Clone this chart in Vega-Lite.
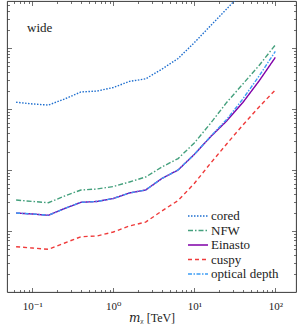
{
  "$schema": "https://vega.github.io/schema/vega-lite/v6.json",
  "width": 289,
  "height": 291,
  "autosize": {"type": "none"},
  "padding": {"left": 7, "top": 1, "right": 4, "bottom": 40},
  "config": {
    "view": {"stroke": "#222222", "strokeWidth": 0.9},
    "font": "Liberation Serif, DejaVu Serif, serif",
    "axis": {"domain": false, "grid": false, "tickColor": "#333333", "tickWidth": 0.7}
  },
  "datasets": {
    "curves": [
      {"profile": "cored", "mass": 0.0631, "limit": 1.29e-24},
      {"profile": "cored", "mass": 0.1, "limit": 1.21e-24},
      {"profile": "cored", "mass": 0.158, "limit": 1.16e-24},
      {"profile": "cored", "mass": 0.251, "limit": 1.46e-24},
      {"profile": "cored", "mass": 0.398, "limit": 1.9e-24},
      {"profile": "cored", "mass": 0.631, "limit": 1.97e-24},
      {"profile": "cored", "mass": 1, "limit": 2.25e-24},
      {"profile": "cored", "mass": 1.58, "limit": 2.83e-24},
      {"profile": "cored", "mass": 2.51, "limit": 3.12e-24},
      {"profile": "cored", "mass": 3.98, "limit": 4.5e-24},
      {"profile": "cored", "mass": 6.31, "limit": 6.73e-24},
      {"profile": "cored", "mass": 10, "limit": 1.22e-23},
      {"profile": "cored", "mass": 15.8, "limit": 2.3e-23},
      {"profile": "cored", "mass": 25.1, "limit": 4.36e-23},
      {"profile": "cored", "mass": 39.8, "limit": 8.3e-23},
      {"profile": "NFW", "mass": 0.0631, "limit": 3.22e-26},
      {"profile": "NFW", "mass": 0.1, "limit": 3.05e-26},
      {"profile": "NFW", "mass": 0.158, "limit": 2.91e-26},
      {"profile": "NFW", "mass": 0.251, "limit": 3.75e-26},
      {"profile": "NFW", "mass": 0.398, "limit": 4.7e-26},
      {"profile": "NFW", "mass": 0.631, "limit": 4.88e-26},
      {"profile": "NFW", "mass": 1, "limit": 5.36e-26},
      {"profile": "NFW", "mass": 1.58, "limit": 6.36e-26},
      {"profile": "NFW", "mass": 2.51, "limit": 7.68e-26},
      {"profile": "NFW", "mass": 3.98, "limit": 1.12e-25},
      {"profile": "NFW", "mass": 6.31, "limit": 1.54e-25},
      {"profile": "NFW", "mass": 10, "limit": 2.77e-25},
      {"profile": "NFW", "mass": 15.8, "limit": 5.78e-25},
      {"profile": "NFW", "mass": 25.1, "limit": 1.28e-24},
      {"profile": "NFW", "mass": 39.8, "limit": 2.57e-24},
      {"profile": "NFW", "mass": 63.1, "limit": 5.17e-24},
      {"profile": "NFW", "mass": 100, "limit": 1.12e-23},
      {"profile": "Einasto", "mass": 0.0631, "limit": 1.97e-26},
      {"profile": "Einasto", "mass": 0.1, "limit": 1.9e-26},
      {"profile": "Einasto", "mass": 0.158, "limit": 1.81e-26},
      {"profile": "Einasto", "mass": 0.251, "limit": 2.34e-26},
      {"profile": "Einasto", "mass": 0.398, "limit": 2.95e-26},
      {"profile": "Einasto", "mass": 0.631, "limit": 3.05e-26},
      {"profile": "Einasto", "mass": 1, "limit": 3.41e-26},
      {"profile": "Einasto", "mass": 1.58, "limit": 4.2e-26},
      {"profile": "Einasto", "mass": 2.51, "limit": 4.7e-26},
      {"profile": "Einasto", "mass": 3.98, "limit": 7.26e-26},
      {"profile": "Einasto", "mass": 6.31, "limit": 1.0e-25},
      {"profile": "Einasto", "mass": 10, "limit": 1.8e-25},
      {"profile": "Einasto", "mass": 15.8, "limit": 3.48e-25},
      {"profile": "Einasto", "mass": 25.1, "limit": 6.36e-25},
      {"profile": "Einasto", "mass": 39.8, "limit": 1.28e-24},
      {"profile": "Einasto", "mass": 63.1, "limit": 2.88e-24},
      {"profile": "Einasto", "mass": 100, "limit": 6.99e-24},
      {"profile": "cuspy", "mass": 0.0631, "limit": 5.53e-27},
      {"profile": "cuspy", "mass": 0.1, "limit": 5.26e-27},
      {"profile": "cuspy", "mass": 0.158, "limit": 5.01e-27},
      {"profile": "cuspy", "mass": 0.251, "limit": 6.36e-27},
      {"profile": "cuspy", "mass": 0.398, "limit": 8.06e-27},
      {"profile": "cuspy", "mass": 0.631, "limit": 8.28e-27},
      {"profile": "cuspy", "mass": 1, "limit": 9.63e-27},
      {"profile": "cuspy", "mass": 1.58, "limit": 1.21e-26},
      {"profile": "cuspy", "mass": 2.51, "limit": 1.4e-26},
      {"profile": "cuspy", "mass": 3.98, "limit": 2.13e-26},
      {"profile": "cuspy", "mass": 6.31, "limit": 3.16e-26},
      {"profile": "cuspy", "mass": 10, "limit": 6.01e-26},
      {"profile": "cuspy", "mass": 15.8, "limit": 1.28e-25},
      {"profile": "cuspy", "mass": 25.1, "limit": 2.67e-25},
      {"profile": "cuspy", "mass": 39.8, "limit": 5.47e-25},
      {"profile": "cuspy", "mass": 63.1, "limit": 1.08e-24},
      {"profile": "cuspy", "mass": 100, "limit": 2.05e-24},
      {"profile": "optical depth", "mass": 0.0631, "limit": 1.97e-26},
      {"profile": "optical depth", "mass": 0.1, "limit": 1.9e-26},
      {"profile": "optical depth", "mass": 0.158, "limit": 1.81e-26},
      {"profile": "optical depth", "mass": 0.251, "limit": 2.34e-26},
      {"profile": "optical depth", "mass": 0.398, "limit": 2.95e-26},
      {"profile": "optical depth", "mass": 0.631, "limit": 3.05e-26},
      {"profile": "optical depth", "mass": 1, "limit": 3.41e-26},
      {"profile": "optical depth", "mass": 1.58, "limit": 4.2e-26},
      {"profile": "optical depth", "mass": 2.51, "limit": 4.7e-26},
      {"profile": "optical depth", "mass": 3.98, "limit": 7.26e-26},
      {"profile": "optical depth", "mass": 6.31, "limit": 1.0e-25},
      {"profile": "optical depth", "mass": 10, "limit": 1.8e-25},
      {"profile": "optical depth", "mass": 15.8, "limit": 3.52e-25},
      {"profile": "optical depth", "mass": 25.1, "limit": 6.73e-25},
      {"profile": "optical depth", "mass": 39.8, "limit": 1.46e-24},
      {"profile": "optical depth", "mass": 63.1, "limit": 3.48e-24},
      {"profile": "optical depth", "mass": 100, "limit": 8.76e-24}
    ],
    "note": [
      {"label": "wide", "x": 0.086, "y": 2.13e-23}
    ]
  },
  "layer": [
    {
      "data": {"name": "curves"},
      "mark": {"type": "line", "clip": true, "strokeWidth": 1.4},
      "encoding": {
        "x": {
          "field": "mass", "type": "quantitative",
          "scale": {"type": "log", "domain": [0.0487, 180.2], "nice": false},
          "axis": {
            "orient": "bottom",
            "title": "𝑚ᵪ [TeV]",
            "titleFont": "Liberation Serif, DejaVu Serif, serif", "titleFontSize": 12, "titleFontWeight": "normal", "titleColor": "#222222",
            "titlePadding": -1,
            "values": [0.06, 0.07, 0.08, 0.09, 0.1, 0.2, 0.3, 0.4, 0.5, 0.6, 0.7, 0.8, 0.9, 1, 2, 3, 4, 5, 6, 7, 8, 9, 10, 20, 30, 40, 50, 60, 70, 80, 90, 100],
            "labelExpr": "datum.value == 0.1 ? '10⁻¹' : datum.value == 1 ? '10⁰' : datum.value == 10 ? '10¹' : datum.value == 100 ? '10²' : ''",
            "labelFont": "Liberation Serif, DejaVu Serif, serif", "labelFontSize": 11, "labelColor": "#222222",
            "labelOverlap": false, "labelFlush": false, "labelPadding": 13,
            "tickSize": {"condition": {"test": "datum.value == 0.1 || datum.value == 1 || datum.value == 10 || datum.value == 100", "value": -4.5}, "value": -2.5}
          }
        },
        "y": {
          "field": "limit", "type": "quantitative",
          "scale": {"type": "log", "domain": [1e-27, 5.89e-23], "nice": false},
          "axis": {
            "orient": "left", "title": null, "labels": false,
            "values": [2e-27, 3e-27, 4e-27, 5e-27, 6e-27, 7e-27, 8e-27, 9e-27, 1e-26, 2e-26, 3e-26, 4e-26, 5e-26, 6e-26, 7e-26, 8e-26, 9e-26, 1e-25, 2e-25, 3e-25, 4e-25, 5e-25, 6e-25, 7e-25, 8e-25, 9e-25, 1e-24, 2e-24, 3e-24, 4e-24, 5e-24, 6e-24, 7e-24, 8e-24, 9e-24, 1e-23, 2e-23, 3e-23, 4e-23, 5e-23],
            "tickSize": {"condition": {"test": "datum.value == 1e-26 || datum.value == 1e-25 || datum.value == 1e-24 || datum.value == 1e-23", "value": -4.5}, "value": -2.5}
          }
        },
        "color": {
          "field": "profile", "type": "nominal",
          "scale": {"domain": ["cored", "NFW", "Einasto", "cuspy", "optical depth"], "range": ["#1f6fcf", "#44a07d", "#8000a8", "#ef3b3b", "#3d9df5"]},
          "legend": {"orient": "none", "legendX": 180, "legendY": 209, "title": null, "padding": 0, "symbolType": "stroke", "symbolSize": 400, "symbolStrokeWidth": 1.4, "clipHeight": 12, "labelFont": "Liberation Serif, DejaVu Serif, serif", "labelFontSize": 13, "labelColor": "#222222", "labelOffset": 2, "rowPadding": 1.5}
        },
        "strokeDash": {
          "field": "profile", "type": "nominal",
          "scale": {"domain": ["cored", "NFW", "Einasto", "cuspy", "optical depth"], "range": [[1.5, 1.5], [5, 2, 1.5, 2], [1, 0], [4, 3], [4, 1.5, 1.5, 1.5]]},
          "legend": {"orient": "none", "legendX": 180, "legendY": 209, "title": null, "padding": 0, "symbolType": "stroke", "symbolSize": 400, "symbolStrokeWidth": 1.4, "clipHeight": 12, "labelFont": "Liberation Serif, DejaVu Serif, serif", "labelFontSize": 13, "labelColor": "#222222", "labelOffset": 2, "rowPadding": 1.5}
        }
      }
    },
    {
      "data": {"name": "note"},
      "mark": {"type": "text", "align": "left", "baseline": "middle", "font": "Liberation Serif, DejaVu Serif, serif", "fontSize": 13, "color": "#222222"},
      "encoding": {
        "x": {
          "field": "x", "type": "quantitative",
          "scale": {"type": "log", "domain": [0.0487, 180.2], "nice": false},
          "axis": {
            "orient": "top", "title": null, "labels": false,
            "values": [0.06, 0.07, 0.08, 0.09, 0.1, 0.2, 0.3, 0.4, 0.5, 0.6, 0.7, 0.8, 0.9, 1, 2, 3, 4, 5, 6, 7, 8, 9, 10, 20, 30, 40, 50, 60, 70, 80, 90, 100],
            "tickSize": {"condition": {"test": "datum.value == 0.1 || datum.value == 1 || datum.value == 10 || datum.value == 100", "value": -4.5}, "value": -2.5}
          }
        },
        "y": {
          "field": "y", "type": "quantitative",
          "scale": {"type": "log", "domain": [1e-27, 5.89e-23], "nice": false},
          "axis": {
            "orient": "right", "title": null, "labels": false,
            "values": [2e-27, 3e-27, 4e-27, 5e-27, 6e-27, 7e-27, 8e-27, 9e-27, 1e-26, 2e-26, 3e-26, 4e-26, 5e-26, 6e-26, 7e-26, 8e-26, 9e-26, 1e-25, 2e-25, 3e-25, 4e-25, 5e-25, 6e-25, 7e-25, 8e-25, 9e-25, 1e-24, 2e-24, 3e-24, 4e-24, 5e-24, 6e-24, 7e-24, 8e-24, 9e-24, 1e-23, 2e-23, 3e-23, 4e-23, 5e-23],
            "tickSize": {"condition": {"test": "datum.value == 1e-26 || datum.value == 1e-25 || datum.value == 1e-24 || datum.value == 1e-23", "value": -4.5}, "value": -2.5}
          }
        },
        "text": {"field": "label", "type": "nominal"}
      }
    }
  ],
  "resolve": {"axis": {"x": "independent", "y": "independent"}}
}
